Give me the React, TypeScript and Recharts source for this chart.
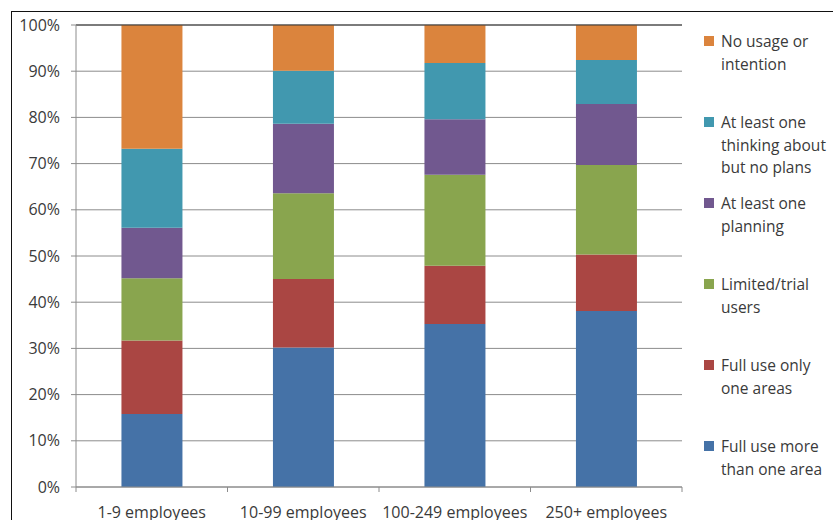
import React from 'react';
import { BarChart, Bar, XAxis, YAxis, CartesianGrid, Legend, ReferenceLine } from 'recharts';

const categories = ['1-9 employees', '10-99 employees', '100-249 employees', '250+ employees'];

// share of firms per adoption stage, in percent (each column sums to 100)
const fullUseMore = [15.8, 30.2, 35.3, 38.1];
const fullUseOne = [15.9, 14.8, 12.6, 12.2];
const limitedTrial = [13.5, 18.6, 19.7, 19.4];
const planning = [10.9, 15.0, 12.0, 13.2];
const thinkingAbout = [17.1, 11.5, 12.2, 9.5];
const noUsage = [26.8, 9.9, 8.2, 7.6];

const yTicks = [0, 10, 20, 30, 40, 50, 60, 70, 80, 90, 100];

const series = [
  { key: 'fullUseMore', label: 'Full use more\nthan one area', color: '#4572A7', values: fullUseMore },
  { key: 'fullUseOne', label: 'Full use only\none areas', color: '#AA4643', values: fullUseOne },
  { key: 'limitedTrial', label: 'Limited/trial\nusers', color: '#89A54E', values: limitedTrial },
  { key: 'planning', label: 'At least one\nplanning', color: '#71588F', values: planning },
  { key: 'thinkingAbout', label: 'At least one\nthinking about\nbut no plans', color: '#4198AF', values: thinkingAbout },
  { key: 'noUsage', label: 'No usage or\nintention', color: '#DB843D', values: noUsage },
];

const data = categories.map((name, i) => {
  const row: Record<string, string | number> = { name };
  series.forEach((s) => {
    row[s.key] = s.values[i];
  });
  return row;
});

const CHART_W = 833;
const CHART_H = 520;
const Y_AXIS_W = 76;
const MARGIN = { top: 25, right: 151, bottom: 0, left: 0 };
const BAND = (CHART_W - Y_AXIS_W - MARGIN.right) / categories.length;

const GRID = '#8c8c8c';
const TEXT = '#3a3a3a';
const FONT = '"Open Sans", sans-serif';

// category label plus tick marks on the category boundaries
const CategoryTick = (props: any) => {
  const { x, y, payload, index } = props;
  const half = BAND / 2;
  return (
    <g>
      <line x1={x - half} x2={x - half} y1={y} y2={y + 5} stroke={GRID} />
      {index === categories.length - 1 && (
        <line x1={x + half} x2={x + half} y1={y} y2={y + 5} stroke={GRID} />
      )}
      <text
        x={x}
        y={y + 25}
        textAnchor="middle"
        dominantBaseline="central"
        fill={TEXT}
        fontSize={16}
        fontFamily={FONT}
      >
        {payload.value}
      </text>
    </g>
  );
};

// stacked order, top segment first
const legendOrder = series.map((s) => s.key).reverse();

const renderLegend = (props: any) => {
  const items = [...(props.payload ?? [])].sort(
    (a: any, b: any) => legendOrder.indexOf(a.dataKey) - legendOrder.indexOf(b.dataKey)
  );
  return (
    <div style={{ fontFamily: FONT }}>
      {items.map((item: any) => (
        <div key={item.dataKey} style={{ height: 81, display: 'flex', alignItems: 'flex-start' }}>
          <span
            style={{
              width: 10,
              height: 10,
              background: item.color,
              marginTop: 6,
              marginRight: 7,
              flexShrink: 0,
            }}
          />
          <span style={{ whiteSpace: 'pre-line', lineHeight: '22.5px', fontSize: 15.5, color: TEXT }}>
            {item.value}
          </span>
        </div>
      ))}
    </div>
  );
};

export default function App() {
  return (
    <div style={{ position: 'fixed', left: 0, top: 0, width: CHART_W, height: CHART_H, background: '#fff', overflow: 'hidden' }}>
      <div
        style={{
          position: 'absolute',
          left: 11,
          top: 11,
          width: CHART_W,
          height: CHART_H,
          borderLeft: '1px solid #111',
          borderTop: '1px solid #111',
        }}
      />
      <BarChart
        width={CHART_W}
        height={CHART_H}
        data={data}
        margin={MARGIN}
        barCategoryGap="30%"
        style={{ position: 'absolute', left: 0, top: 0 }}
      >
        <CartesianGrid vertical={false} stroke={GRID} strokeWidth={1} />
        <XAxis
          dataKey="name"
          height={33}
          tickSize={0}
          tickMargin={0}
          tickLine={false}
          axisLine={{ stroke: GRID }}
          tick={<CategoryTick />}
          interval={0}
        />
        <YAxis
          width={Y_AXIS_W}
          domain={[0, 100]}
          ticks={yTicks}
          allowDataOverflow
          tickFormatter={(v: number) => `${v}%`}
          tickSize={5}
          tickMargin={11}
          tickLine={{ stroke: GRID }}
          axisLine={{ stroke: GRID }}
          tick={{ fill: TEXT, fontSize: 16, fontFamily: FONT }}
        />
        <YAxis
          yAxisId="frame"
          orientation="right"
          width={0}
          tick={false}
          tickLine={false}
          axisLine={{ stroke: GRID }}
        />
        <ReferenceLine y={100} stroke="#333" />
        {series.map((s) => (
          <Bar
            key={s.key}
            dataKey={s.key}
            name={s.label}
            stackId="stage"
            fill={s.color}
            isAnimationActive={false}
          />
        ))}
        <Legend
          layout="vertical"
          align="center"
          verticalAlign="middle"
          content={renderLegend}
          wrapperStyle={{ left: 704, top: 30, width: 129 }}
        />
      </BarChart>
    </div>
  );
}
